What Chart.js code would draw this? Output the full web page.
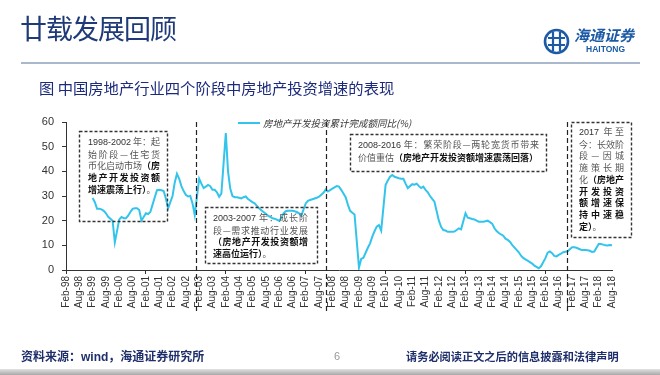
<!DOCTYPE html>
<html>
<head>
<meta charset="utf-8">
<script src="https://cdn.jsdelivr.net/npm/chart.js@4.4.1/dist/chart.umd.min.js"></script>
<style>
  body { margin: 0; background: #fff; }
  #page { position: relative; width: 660px; height: 375px; overflow: hidden; font-family: "Noto Sans CJK SC", "Noto Sans", sans-serif; }
  #chart { position: absolute; left: 0; top: 0; }
  .abs { position: absolute; white-space: nowrap; }
  .note { position: absolute; font-size: 9px; line-height: 11.7px; color: #555; }
  .note div { text-align: justify; text-align-last: justify; white-space: nowrap; }
  .note div.last { text-align-last: left; }
  .note b { color: #111; font-weight: 700; }
  .note .num { font-family: "Liberation Sans", Arial, sans-serif; color: #333; font-size: 9px; }
</style>
</head>
<body>
<div id="page">
  <canvas id="chart" width="660" height="375"></canvas>

  <div class="abs" style="left:20px;top:12px;font-size:27px;letter-spacing:-1px;line-height:32px;color:#1F3A78;">廿载发展回顾</div>
  <div class="abs" style="left:21px;top:62px;width:619px;height:2px;background:#A9B8CC;"></div>

  <svg class="abs" style="left:543px;top:28px;" width="27" height="27" viewBox="0 0 27 27">
    <circle cx="13.5" cy="13.5" r="11.5" fill="none" stroke="#1C5AA6" stroke-width="2.6"/>
    <path d="M5 10 H22 M5 17 H22 M10 4 V23 M17 4 V23" stroke="#1C5AA6" stroke-width="2.2" fill="none"/>
  </svg>
  <div class="abs" style="left:574px;top:26px;font-size:15px;line-height:18px;font-style:italic;font-weight:700;color:#1C5AA6;">海通证券</div>
  <div class="abs" style="left:586px;top:44px;font-size:8.5px;line-height:10px;font-weight:700;font-family:'Liberation Sans',Arial,sans-serif;color:#1C5AA6;">HAITONG</div>

  <div class="abs" style="left:39px;top:78px;font-size:15.3px;line-height:19px;color:#1B2A7A;">图 中国房地产行业四个阶段中房地产投资增速的表现</div>

  <div class="abs" style="left:238px;top:122px;width:22px;height:2px;background:#33C4EC;"></div>
  <div class="abs" id="legendText" style="left:263px;top:116px;font-size:9.5px;line-height:14px;font-style:italic;color:#333;"></div>

  <div class="note" style="left:88px;top:136px;width:72px;">
    <div><span class="num">1998-2002</span> 年：起</div>
    <div>始阶段—住宅货</div>
    <div>币化启动市场<b>（房</b></div>
    <div><b>地产开发投资额</b></div>
    <div class="last"><b>增速震荡上行）</b>。</div>
  </div>

  <div class="note" style="left:213px;top:212px;width:95px;">
    <div><span class="num">2003-2007</span> 年：成长阶</div>
    <div>段—需求推动行业发展</div>
    <div><b>（房地产开发投资额增</b></div>
    <div class="last"><b>速高位运行）</b>。</div>
  </div>

  <div class="note" style="left:358px;top:139px;width:181px;">
    <div><span class="num">2008-2016</span> 年：繁荣阶段—两轮宽货币带来</div>
    <div class="last">价值重估<b>（房地产开发投资额增速震荡回落）</b></div>
  </div>

  <div class="note" style="left:579px;top:126px;width:45px;">
    <div><span class="num">2017</span> 年至</div>
    <div>今：长效阶</div>
    <div>段—因城</div>
    <div>施策长期</div>
    <div>化<b>（房地产</b></div>
    <div><b>开发投资</b></div>
    <div><b>额增速保</b></div>
    <div><b>持中速稳</b></div>
    <div class="last"><b>定）</b>。</div>
  </div>

  <div class="abs" style="left:21px;top:348px;font-size:12px;line-height:16px;font-weight:700;color:#1F2F6B;">资料来源：<span style="font-family:'Liberation Sans',Arial,sans-serif;">wind</span>，海通证券研究所</div>
  <div class="abs" style="left:334px;top:349px;font-size:11px;line-height:14px;color:#999;font-family:'Liberation Sans',Arial,sans-serif;">6</div>
  <div class="abs" style="left:406px;top:349px;font-size:11.2px;line-height:15px;font-weight:700;color:#1F2F6B;">请务必阅读正文之后的信息披露和法律声明</div>
  <div class="abs" style="left:0;top:369px;width:660px;height:6px;background:linear-gradient(#e2e2e2,#a8a8a8);"></div>
</div>

<script>
// 房地产开发投资累计同比(%)，每年 Jan..Dec（1月无数据）
const inv1998 = [null, null, null, null, null, null, null, null, null, null, null, null];
const inv1999 = [null, 29.2, 27.5, 24.8, 24.8, 24.6, 24, 23, 21.6, 20.8, 20, 11.2];
const inv2000 = [null, 20.5, 21.5, 21, 21, 22, 23.5, 24.8, 25, 25, 24.3, 20];
const inv2001 = [null, 23, 22.7, 23.5, 26.5, 29.5, 32.4, 32.5, 32.3, 32, 29, 25];
const inv2002 = [null, 30, 35.5, 39, 37, 34, 32, 30.5, 29.8, 30, 27, 22.3];
const inv2003 = [null, 37, 35, 33.2, 33.8, 34.5, 34, 32.5, 32.5, 31.5, 29.7, 31];
const inv2004 = [null, 55.5, 40, 33, 30, 29.5, 29.5, 29.3, 29, 29.5, 29.8, 28.8];
const inv2005 = [null, 27.5, 27, 26, 25, 24.2, 23.5, 22.8, 22, 21.5, 21, 20.8];
const inv2006 = [null, 20, 21, 23, 23.8, 24, 24, 24, 23.8, 23.5, 23, 22];
const inv2007 = [null, 27, 28, 28.4, 28.7, 29, 29.3, 29.7, 30.5, 31.3, 32.6, 31.8];
const inv2008 = [null, 33, 33.5, 34, 33.8, 32.5, 31, 29.5, 26.5, 24, 23.2, 22.5];
const inv2009 = [null, 1, 4.5, 5, 7, 9, 10.8, 13.5, 15.7, 17.6, 18.2, 16];
const inv2010 = [null, 34.5, 36.3, 37.8, 38.5, 37.8, 37.5, 37.2, 37, 37, 35, 33.2];
const inv2011 = [null, 34.8, 34.6, 35, 34, 33.2, 33.8, 32.5, 31.5, 30, 28.8, 27.7];
const inv2012 = [null, 20, 17.5, 16.2, 16, 15.5, 15.5, 15.5, 15.6, 16.2, 16.9, 16.5];
const inv2013 = [null, 23, 21.2, 21, 20.7, 20.5, 20, 19.6, 19.6, 19.6, 19.8, 20];
const inv2014 = [null, 18.8, 17, 15.8, 15, 14.4, 13.9, 12.7, 12.2, 11.5, 10.2, 9.2];
const inv2015 = [null, 7.2, 5.8, 4.9, 4.3, 3.8, 3.2, 2.6, 1.8, 1.3, 0.7, 1.5];
const inv2016 = [null, 4.8, 7, 7.5, 6.8, 5.7, 5.5, 6.1, 6.6, 7.2, 7.4, 7.6];
const inv2017 = [null, 9.2, 9.2, 9, 8.6, 8.2, 8.1, 8.1, 8, 7.8, 7.3, 7.5];
const inv2018 = [null, 10.5, 10.5, 10.3, 10, 9.9, 10.1, 10];

const monthNames = ['Jan', 'Feb', 'Mar', 'Apr', 'May', 'Jun', 'Jul', 'Aug', 'Sep', 'Oct', 'Nov', 'Dec'];
const seriesLabel = '房地产开发投资累计完成额同比(%)';
// 阶段分隔线（月序号，Feb-98 = 0）
const periodDividers = [58.4, 117.1, 225.7];

// Feb-98 .. Aug-18
const monthLabels = [];
for (let y = 1998; y <= 2018; y++) {
  for (let m = 0; m < 12; m++) {
    if (y === 1998 && m === 0) continue;
    if (y === 2018 && m > 7) break;
    monthLabels.push(monthNames[m] + '-' + String(y).slice(2));
  }
}
const investGrowth = [].concat(inv1998, inv1999, inv2000, inv2001, inv2002, inv2003, inv2004,
  inv2005, inv2006, inv2007, inv2008, inv2009, inv2010, inv2011, inv2012, inv2013, inv2014,
  inv2015, inv2016, inv2017, inv2018).slice(1);

document.getElementById('legendText').textContent = seriesLabel;

const lineColor = '#33C4EC';
const axisColor = '#333';

const decorations = {
  id: 'decorations',
  afterDatasetsDraw(chart) {
    const ctx = chart.ctx;
    const x = chart.scales.x;
    const area = chart.chartArea;
    ctx.save();
    // period dividers
    ctx.strokeStyle = '#222';
    ctx.lineWidth = 1.2;
    ctx.setLineDash([5, 3]);
    periodDividers.forEach(function(p) {
      const px = Math.round(x.getPixelForValue(p)) + 0.5;
      ctx.beginPath();
      ctx.moveTo(px, area.top);
      ctx.lineTo(px, area.bottom + 42);
      ctx.stroke();
    });
    // note boxes
    ctx.strokeStyle = '#333';
    ctx.lineWidth = 1.4;
    ctx.setLineDash([3, 2]);
    [[79, 131, 88, 90], [205, 207, 112, 56], [350, 134, 196, 37], [571, 122, 60, 115]].forEach(function(b) {
      ctx.strokeRect(b[0] + 0.5, b[1] + 0.5, b[2], b[3]);
    });
    ctx.restore();
  }
};

new Chart(document.getElementById('chart'), {
  type: 'line',
  data: {
    labels: monthLabels,
    datasets: [{
      label: seriesLabel,
      data: investGrowth,
      borderColor: lineColor,
      backgroundColor: lineColor,
      borderWidth: 2,
      pointRadius: 0,
      tension: 0,
      spanGaps: true,
      fill: false
    }]
  },
  options: {
    responsive: false,
    animation: false,
    layout: { padding: { top: 122, right: 48, left: 0, bottom: 0 } },
    plugins: {
      legend: { display: false },
      tooltip: { enabled: false }
    },
    scales: {
      x: {
        offset: false,
        border: { color: axisColor, width: 1 },
        grid: {
          drawOnChartArea: false,
          tickLength: 4,
          color: function(c) { return c.index % 6 === 0 ? axisColor : 'rgba(0,0,0,0)'; }
        },
        ticks: {
          autoSkip: false,
          minRotation: 90,
          maxRotation: 90,
          padding: 2,
          color: '#333',
          font: { size: 10, family: 'Liberation Sans, Arial, sans-serif' },
          callback: function(v, i) { return i % 6 === 0 ? monthLabels[i] : null; }
        },
        afterFit: function(s) { s.height = 105; }
      },
      y: {
        min: 0,
        max: 60,
        border: { color: axisColor, width: 1 },
        grid: { drawOnChartArea: false, tickLength: 4, color: axisColor },
        ticks: {
          stepSize: 10,
          padding: 8,
          color: '#333',
          font: { size: 11, family: 'Liberation Sans, Arial, sans-serif' }
        },
        afterFit: function(s) { s.width = 66; }
      }
    }
  },
  plugins: [decorations]
});
</script>
</body>
</html>
